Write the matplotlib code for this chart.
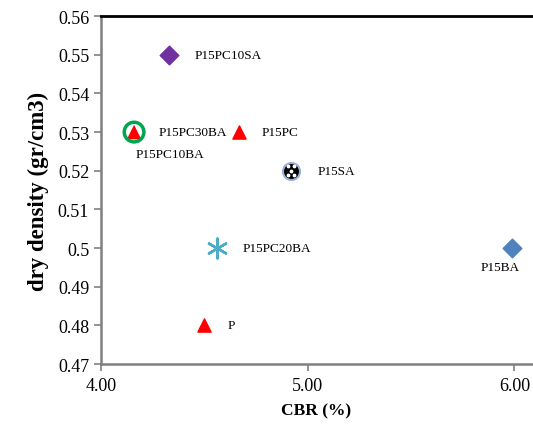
import matplotlib
matplotlib.use("Agg")
import matplotlib.pyplot as plt

plt.rcParams['font.family'] = ['Liberation Serif', 'DejaVu Serif']

# CBR (%) vs dry density (gr/cm3) for each mix
names = ['P15PC10SA', 'P15PC10BA', 'P15PC30BA', 'P15PC', 'P15SA', 'P15PC20BA', 'P15BA', 'P']
cbr = [4.33, 4.16, 4.16, 4.67, 4.92, 4.56, 5.99, 4.50]
density = [0.55, 0.53, 0.53, 0.53, 0.52, 0.50, 0.50, 0.48]

# label offsets in pixels (dx, dy, ha)
offsets = {
    'P15PC10SA': (25, 0, 'left'),
    'P15PC10BA': (2, -22, 'left'),
    'P15PC30BA': (25, 0, 'left'),
    'P15PC': (22, 0, 'left'),
    'P15SA': (26, 0, 'left'),
    'P15PC20BA': (26, 0, 'left'),
    'P15BA': (-12, -19, 'center'),
    'P': (23, 0, 'left'),
}

fig = plt.figure(figsize=(5.33, 4.27), dpi=100)
ax = fig.add_axes([0.1895, 0.145, 0.8085, 0.815])

d = dict(zip(names, zip(cbr, density)))

x, y = d['P15PC10SA']
ax.scatter(x, y, marker='D', s=90, color='#7030A0', zorder=3)
x, y = d['P15PC10BA']
ax.scatter(x, y, marker='^', s=110, color='red', edgecolor='red', hatch='..', linewidth=0, zorder=3)
x, y = d['P15PC30BA']
ax.scatter(x, y, marker='o', s=200, facecolor='none', edgecolor='#00A550', linewidth=2.5, zorder=4)
x, y = d['P15PC']
ax.scatter(x, y, marker='^', s=90, color='red', zorder=3)
x, y = d['P15SA']
ax.scatter(x, y, marker='o', s=150, facecolor='black', edgecolor='#95B3D7', linewidth=1.5, zorder=3)
ax.scatter([x - 0.014, x + 0.014, x, x - 0.014, x + 0.014], [y + 0.0012, y + 0.0012, y, y - 0.0012, y - 0.0012],
           marker='o', s=3, color='white', zorder=4)
x, y = d['P15PC20BA']
ax.scatter(x, y, marker=(6, 2, 0), s=200, color='#4BACC6', linewidth=1.8, zorder=3)
x, y = d['P15BA']
ax.scatter(x, y, marker='D', s=90, color='#4F81BD', zorder=3)
x, y = d['P']
ax.scatter(x, y, marker='^', s=90, color='red', zorder=3)

for n in names:
    dx, dy, ha = offsets[n]
    ax.annotate(n, d[n], xytext=(dx, dy), textcoords='offset pixels',
                ha=ha, va='center', fontsize=9.5)

ax.set_xlim(4.0, 6.085)
ax.set_ylim(0.47, 0.56)
ax.set_xticks([4.0, 5.0, 6.0])
ax.set_xticklabels(['4.00', '5.00', '6.00'])
ax.set_yticks([0.47, 0.48, 0.49, 0.50, 0.51, 0.52, 0.53, 0.54, 0.55, 0.56])
ax.set_yticklabels(['0.47', '0.48', '0.49', '0.5', '0.51', '0.52', '0.53', '0.54', '0.55', '0.56'])
ax.tick_params(labelsize=13, color='#808080', width=1.2, length=5, direction='out')
ax.tick_params(axis='x', pad=4)

ax.spines['right'].set_visible(False)
ax.spines['top'].set_color('black')
ax.spines['top'].set_linewidth(2)
for s in ['left', 'bottom']:
    ax.spines[s].set_color('#808080')
    ax.spines[s].set_linewidth(1.8)

ax.set_xlabel('CBR (%)', fontsize=12.5, fontweight='bold', labelpad=6)
ax.set_ylabel('dry density (gr/cm3)', fontsize=16.5, fontweight='bold', labelpad=6)

fig.savefig('out.png', dpi=100)
